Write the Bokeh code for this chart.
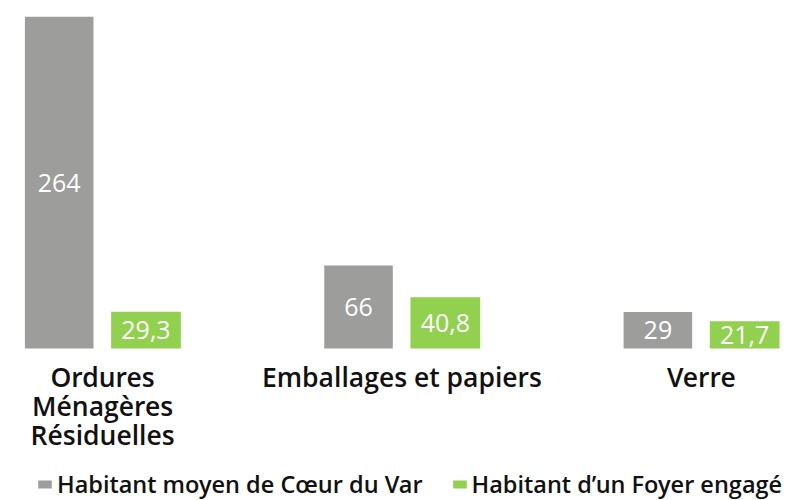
from bokeh.plotting import figure
from bokeh.models import ColumnDataSource, Legend, LegendItem
from bokeh.transform import dodge
from bokeh.core.properties import value
from bokeh.embed import file_html
from bokeh.resources import INLINE

categories = ["Ordures\nMénagères\nRésiduelles", "Emballages et papiers", "Verre"]
series_names = ["Habitant moyen de Cœur du Var", "Habitant d’un Foyer engagé"]
moyen = [264, 66, 29]
foyer = [29.3, 40.8, 21.7]

GREY = "#9d9d9b"
GREEN = "#92d050"
LABEL_FONT = "Open Sans SemiBold, Open Sans"


def fmt(v):
    return f"{v:g}".replace(".", ",")


source = ColumnDataSource(dict(
    x=list(range(len(categories))),
    cat=categories,
    zero=[0] * len(categories),
    moyen=moyen,
    foyer=foyer,
    moyen_mid=[v / 2 for v in moyen],
    foyer_mid=[v / 2 for v in foyer],
    moyen_lbl=[fmt(v) for v in moyen],
    foyer_lbl=[fmt(v) for v in foyer],
))

p = figure(
    frame_width=791, frame_height=484,
    x_range=(-0.3143, 2.3281), y_range=(-120.86, 264),
    x_axis_location=None, y_axis_location=None,
    output_backend="svg", toolbar_location=None,
    min_border_left=8, min_border_right=0, min_border_top=16, min_border_bottom=0,
)
p.outline_line_color = None
p.xgrid.visible = False
p.ygrid.visible = False

r1 = p.vbar(x=dodge("x", -0.145, range=p.x_range), top="moyen", width=0.229,
            source=source, fill_color=GREY, line_color=None)
r2 = p.vbar(x=dodge("x", 0.145, range=p.x_range), top="foyer", width=0.233,
            source=source, fill_color=GREEN, line_color=None)

for xo, ycol, tcol in [(-0.145, "moyen_mid", "moyen_lbl"), (0.145, "foyer_mid", "foyer_lbl")]:
    p.text(x=dodge("x", xo, range=p.x_range), y=ycol, text=tcol, source=source,
           text_color="white", text_font=value("Open Sans"), text_font_size="25px",
           text_align="center", text_baseline="middle")

# category labels under the bars
p.text(x="x", y="zero", text="cat", source=source, y_offset=10,
       text_color="#111111", text_font=value(LABEL_FONT), text_font_size="26.5px",
       text_line_height=0.81, text_align="center", text_baseline="top")

legend = Legend(
    items=[LegendItem(label=series_names[0], renderers=[r1]),
           LegendItem(label=series_names[1], renderers=[r2])],
    orientation="horizontal", location=(28, 0),
    label_text_font=LABEL_FONT, label_text_font_size="23.5px",
    label_text_color="#111111",
    glyph_width=17, glyph_height=10, label_standoff=4, spacing=28,
    padding=0, margin=0, border_line_color=None, background_fill_alpha=0,
)
p.add_layout(legend)

open("out.html", "w").write(file_html(p, INLINE))
